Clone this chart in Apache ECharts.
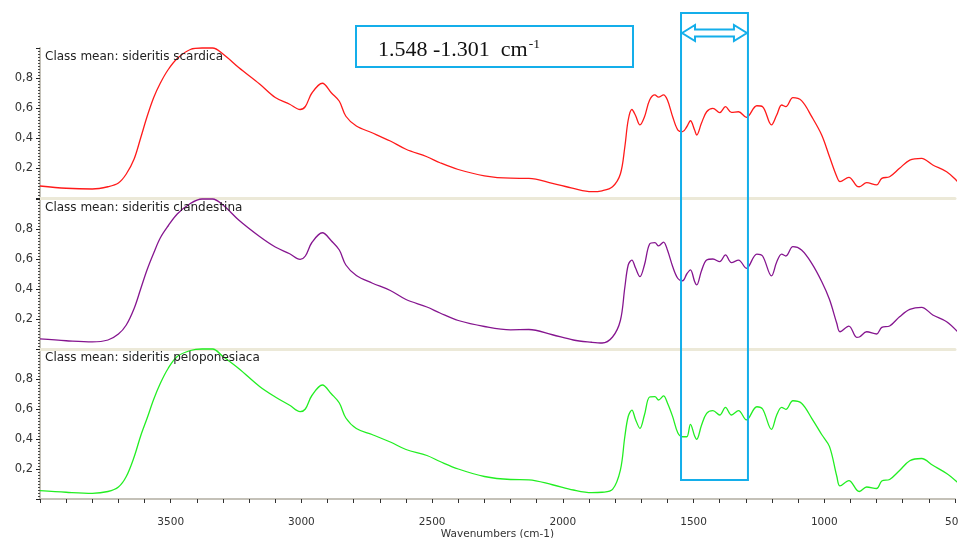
<!DOCTYPE html>
<html>
<head>
<meta charset="utf-8">
<script src="https://cdn.jsdelivr.net/npm/echarts@6/dist/echarts.min.js"></script>
<style>
html,body{margin:0;padding:0;background:#fff;}
#chart{width:958px;height:538px;}
</style>
</head>
<body>
<div id="chart"></div>
<script>
// ---- data ----
const wavenumbers = [4000,3900,3800,3740,3700,3670,3640,3615,3590,3565,
  3540,3510,3475,3425,3380,3340,3300,3240,3160,3100,
  3045,3005,2985,2960,2920,2885,2855,2830,2790,2730,
  2660,2600,2520,2470,2400,2300,2200,2130,2040,1960,
  1890,1850,1810,1780,1763,1750,1736,1722,1705,1688,
  1668,1648,1634,1615,1600,1580,1560,1542,1526,1512,
  1496,1488,1470,1450,1426,1400,1378,1355,1328,1298,
  1258,1236,1202,1182,1163,1147,1120,1087,1048,1010,
  980,952,940,906,876,866,838,800,780,750,
  712,673,628,585,532,490];

const scardica = [0.08,0.065,0.06,0.075,0.10,0.16,0.26,0.40,0.545,0.67,
  0.765,0.855,0.93,0.99,1.0,1.0,0.96,0.87,0.76,0.67,
  0.625,0.59,0.61,0.70,0.765,0.70,0.645,0.545,0.48,0.435,
  0.38,0.325,0.275,0.235,0.19,0.148,0.132,0.131,0.098,0.064,
  0.042,0.048,0.075,0.16,0.34,0.52,0.59,0.55,0.487,0.54,
  0.653,0.687,0.672,0.687,0.653,0.542,0.453,0.442,0.475,0.515,
  0.453,0.42,0.498,0.575,0.598,0.569,0.609,0.571,0.575,0.538,
  0.615,0.609,0.487,0.553,0.62,0.609,0.669,0.649,0.542,0.42,
  0.275,0.142,0.109,0.138,0.08,0.075,0.102,0.087,0.131,0.142,
  0.198,0.253,0.264,0.22,0.175,0.109];

const clandestina = [0.067,0.055,0.047,0.06,0.10,0.16,0.27,0.40,0.53,0.64,
  0.74,0.82,0.90,0.97,1.0,1.0,0.96,0.86,0.75,0.68,
  0.635,0.598,0.62,0.71,0.775,0.72,0.66,0.56,0.49,0.44,
  0.39,0.33,0.28,0.24,0.19,0.15,0.128,0.13,0.095,0.06,
  0.045,0.04,0.08,0.19,0.41,0.56,0.593,0.54,0.482,0.56,
  0.70,0.709,0.687,0.713,0.66,0.55,0.47,0.455,0.50,0.527,
  0.45,0.427,0.52,0.593,0.60,0.582,0.627,0.576,0.593,0.538,
  0.633,0.62,0.487,0.58,0.633,0.62,0.682,0.66,0.571,0.45,
  0.33,0.17,0.115,0.153,0.078,0.08,0.115,0.10,0.144,0.153,
  0.215,0.264,0.278,0.227,0.182,0.115];

const peloponnesiaca = [0.056,0.045,0.038,0.05,0.08,0.15,0.28,0.42,0.54,0.665,
  0.77,0.87,0.95,0.99,1.0,1.0,0.95,0.87,0.75,0.68,
  0.625,0.582,0.60,0.69,0.76,0.70,0.64,0.54,0.47,0.43,
  0.38,0.33,0.29,0.25,0.20,0.15,0.13,0.128,0.095,0.06,
  0.042,0.045,0.064,0.193,0.415,0.55,0.593,0.53,0.471,0.56,
  0.68,0.682,0.66,0.687,0.64,0.549,0.44,0.415,0.415,0.498,
  0.42,0.398,0.49,0.571,0.589,0.56,0.611,0.56,0.589,0.527,
  0.615,0.60,0.464,0.56,0.611,0.598,0.655,0.638,0.538,0.43,
  0.349,0.15,0.087,0.122,0.06,0.05,0.08,0.07,0.12,0.13,
  0.19,0.255,0.27,0.225,0.17,0.11];

const panelTitles = ['Class mean: sideritis scardica','Class mean: sideritis clandestina','Class mean: sideritis peloponesiaca'];
const seriesColors = ['#ff1a1a','#85158f','#22ee22'];
const xAxisName = 'Wavenumbers (cm-1)';
const bandFrom = 1548, bandTo = 1292;   // highlighted wavenumber band
const bandLabel = '1.548 -1.301  cm';
const bandLabelSup = '-1';

// ---- chart ----
const chart = echarts.init(document.getElementById('chart'), null, {renderer:'canvas'});
const FONT = '"DejaVu Sans", Verdana, sans-serif';
const tops = [48, 199, 349];
const values = [scardica, clandestina, peloponnesiaca];

const grids = tops.map(t => ({left:40, right:3, top:t, height:150, containLabel:false, outerBoundsMode:'none'}));
const xAxes = tops.map((t,i) => ({
  type:'value', gridIndex:i, inverse:true, min:500, max:4000, interval:500,
  splitLine:{show:false},
  axisLine:{show:true, lineStyle:{color: i<2 ? '#ECE9D8' : '#c4c1b8', width: i<2 ? 3 : 2}},
  axisTick:{show:i===2, length:4, lineStyle:{color:'#333'}},
  minorTick:{show:i===2, splitNumber:5, length:4, lineStyle:{color:'#333'}},
  axisLabel:{show:i===2, margin:18, color:'#333', fontSize:10.5, fontFamily:FONT,
    formatter: v => v >= 4000 ? '' : String(v)},
  name: i===2 ? xAxisName : '', nameLocation:'middle', nameGap:28,
  nameTextStyle:{color:'#333', fontSize:10.5, fontFamily:FONT}
}));
const yAxes = tops.map((t,i) => ({
  type:'value', gridIndex:i, min:0, max:1, interval:0.2,
  splitLine:{show:false},
  axisLine:{show:true, lineStyle:{color:'#c4c1b8', width:2}},
  axisTick:{show:true, length:4, lineStyle:{color:'#222'}},
  minorTick:{show:true, splitNumber:10, length:2, lineStyle:{color:'#444'}},
  axisLabel:{margin:7, color:'#333', fontSize:11.5, fontFamily:FONT,
    formatter: v => (v<=0.001 || v>=0.999) ? '' : v.toFixed(1).replace('.', ',')}
}));
const series = values.map((vals,i) => ({
  type:'line', xAxisIndex:i, yAxisIndex:i, showSymbol:false, symbol:'none',
  smooth:0.35, clip:false,
  lineStyle:{color:seriesColors[i], width:1.3},
  data: wavenumbers.map((w,k) => [w, vals[k]])
}));
const titles = panelTitles.map((txt,i) => ({
  text:txt, left:45, top:tops[i]+3, padding:0,
  textStyle:{fontSize:12, fontWeight:'normal', color:'#222', fontFamily:FONT}
}));

chart.setOption({
  backgroundColor:'#fff', animation:false,
  title:titles, grid:grids, xAxis:xAxes, yAxis:yAxes, series:series
});

// ---- annotations ----
const xa = chart.convertToPixel({xAxisIndex:2}, bandFrom);
const xb = chart.convertToPixel({xAxisIndex:2}, bandTo);
const cyan = '#14aeea';
const ctx = document.createElement('canvas').getContext('2d');
ctx.font = '22px "Liberation Serif"';
const mainW = ctx.measureText(bandLabel).width;
const ay = 33, hl = 13;
chart.setOption({
  graphic:[
    {type:'rect', z:100, shape:{x:xa, y:13, width:xb-xa, height:467},
      style:{fill:'none', stroke:cyan, lineWidth:2}},
    {type:'polygon', z:101, shape:{points:[
      [xa+1,ay],[xa+1+hl,ay-8],[xa+1+hl,ay-3.5],[xb-1-hl,ay-3.5],[xb-1-hl,ay-8],
      [xb-1,ay],[xb-1-hl,ay+8],[xb-1-hl,ay+3.5],[xa+1+hl,ay+3.5],[xa+1+hl,ay+8]]},
      style:{fill:'#fff', stroke:cyan, lineWidth:2}},
    {type:'rect', z:100, shape:{x:356, y:26, width:277, height:41},
      style:{fill:'#fff', stroke:cyan, lineWidth:2}},
    {type:'text', z:102, x:378, y:50, style:{text:bandLabel, font:'22px "Liberation Serif"', fill:'#111', verticalAlign:'middle', align:'left'}},
    {type:'text', z:102, x:378+mainW+1, y:44, style:{text:bandLabelSup, font:'13.5px "Liberation Serif"', fill:'#111', verticalAlign:'middle', align:'left'}}
  ]
});
</script>
</body>
</html>
